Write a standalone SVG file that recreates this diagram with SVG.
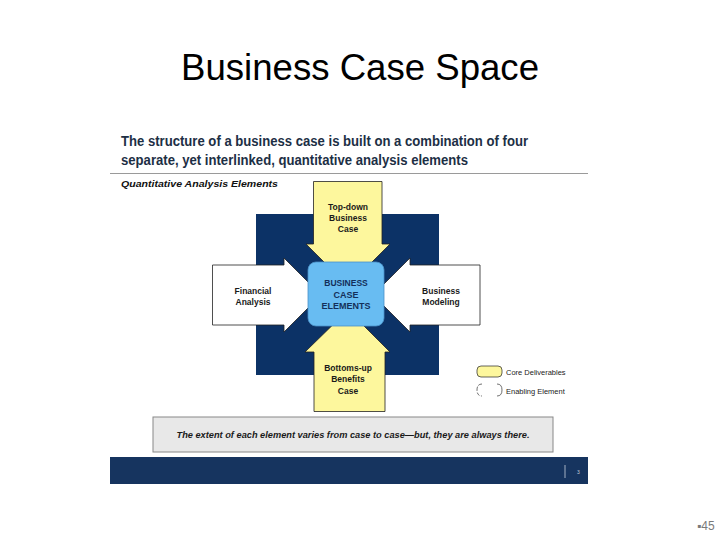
<svg xmlns="http://www.w3.org/2000/svg" width="720" height="540" viewBox="0 0 720 540">
<style>
.sans{font-family:"Liberation Sans",Arial,sans-serif}
.lbl{font-family:"Liberation Sans",Arial,sans-serif;font-size:8.5px;font-weight:bold;fill:#1a1a1a;text-anchor:middle}
.yel{fill:#fdf79d;stroke:#222;stroke-width:0.8}
.wht{fill:#ffffff;stroke:#222;stroke-width:0.8}
</style>
<rect width="720" height="540" fill="#ffffff"/>
<text class="sans" x="360" y="80" font-size="36" fill="#000" text-anchor="middle" textLength="358" lengthAdjust="spacingAndGlyphs">Business Case Space</text>
<g id="heading">
<text class="sans" x="121" y="146" font-size="14" font-weight="bold" fill="#1d2f45" textLength="407" lengthAdjust="spacingAndGlyphs">The structure of a business case is built on a combination of four</text>
<text class="sans" x="121" y="165" font-size="14" font-weight="bold" fill="#1d2f45" textLength="347" lengthAdjust="spacingAndGlyphs">separate, yet interlinked, quantitative analysis elements</text>
<line x1="110" y1="173.5" x2="588" y2="173.5" stroke="#9a9a9a" stroke-width="1"/>
<text class="sans" x="121" y="187" font-size="9.5" font-weight="bold" font-style="italic" fill="#111" textLength="157" lengthAdjust="spacingAndGlyphs">Quantitative Analysis Elements</text>
</g>
<rect id="backdrop" x="256" y="214" width="183" height="161" fill="#0c3266"/>
<g id="connectors">
<polygon id="arrow-top" class="yel" points="313.5,181.5 382,181.5 382,244 390,244 348,286 306,244 313.5,244"/>
<polygon id="arrow-bottom" class="yel" points="314,411.5 385,411.5 385,352 390,352 348,310 305,352 314,352"/>
<polygon id="arrow-left" class="wht" points="212.5,265 284,265 284,258 321,295 284,332 284,325 212.5,325"/>
<polygon id="arrow-right" class="wht" points="480,265 410,265 410,258 373,295 410,332 410,325 480,325"/>
</g>
<g id="node-top">
<text class="lbl" x="348" y="210">Top-down</text>
<text class="lbl" x="348" y="221">Business</text>
<text class="lbl" x="348" y="232">Case</text>
</g>
<g id="node-left">
<text class="lbl" x="253" y="294">Financial</text>
<text class="lbl" x="253" y="305">Analysis</text>
</g>
<g id="node-right">
<text class="lbl" x="441" y="294">Business</text>
<text class="lbl" x="441" y="305">Modeling</text>
</g>
<g id="node-bottom">
<text class="lbl" x="348" y="371">Bottoms-up</text>
<text class="lbl" x="348" y="382">Benefits</text>
<text class="lbl" x="348" y="394">Case</text>
</g>
<g id="node-center">
<rect x="308" y="262" width="76" height="64" rx="8" fill="#68bcf2" stroke="#4a90c8" stroke-width="0.8"/>
<text class="lbl" x="346" y="286" style="fill:#14305a">BUSINESS</text>
<text class="lbl" x="346" y="298" style="fill:#14305a;font-size:9px">CASE</text>
<text class="lbl" x="346" y="309" style="fill:#14305a;font-size:9px">ELEMENTS</text>
</g>
<g id="legend">
<rect x="477" y="366" width="25" height="11" rx="4" fill="#fdf79d" stroke="#222" stroke-width="0.7"/>
<text class="sans" x="506" y="375" font-size="7.5" fill="#222">Core Deliverables</text>
<path d="M482,384 Q477,384 477,390 Q477,396 482,396" fill="none" stroke="#333" stroke-width="0.7" stroke-dasharray="4,1.5"/>
<path d="M497,384 Q502,384 502,390 Q502,396 497,396" fill="none" stroke="#333" stroke-width="0.7"/>
<text class="sans" x="506" y="394" font-size="7.5" fill="#222">Enabling Element</text>
</g>
<g id="note">
<rect x="153" y="417" width="400" height="35" fill="#e8e8e8" stroke="#888" stroke-width="1"/>
<text class="sans" x="353" y="438" font-size="8.5" font-weight="bold" font-style="italic" fill="#1a1a1a" text-anchor="middle" textLength="353" lengthAdjust="spacingAndGlyphs">The extent of each element varies from case to case—but, they are always there.</text>
</g>
<g id="footer">
<rect x="110" y="457" width="478" height="27" fill="#16345f"/>
<line x1="565" y1="465" x2="565" y2="478" stroke="#c8d0dc" stroke-width="0.8"/>
<text class="sans" x="577" y="474" font-size="5" fill="#c8d0dc">3</text>
</g>
<text class="sans" x="697" y="530" font-size="12" fill="#7a7a7a">▪45</text>
</svg>
